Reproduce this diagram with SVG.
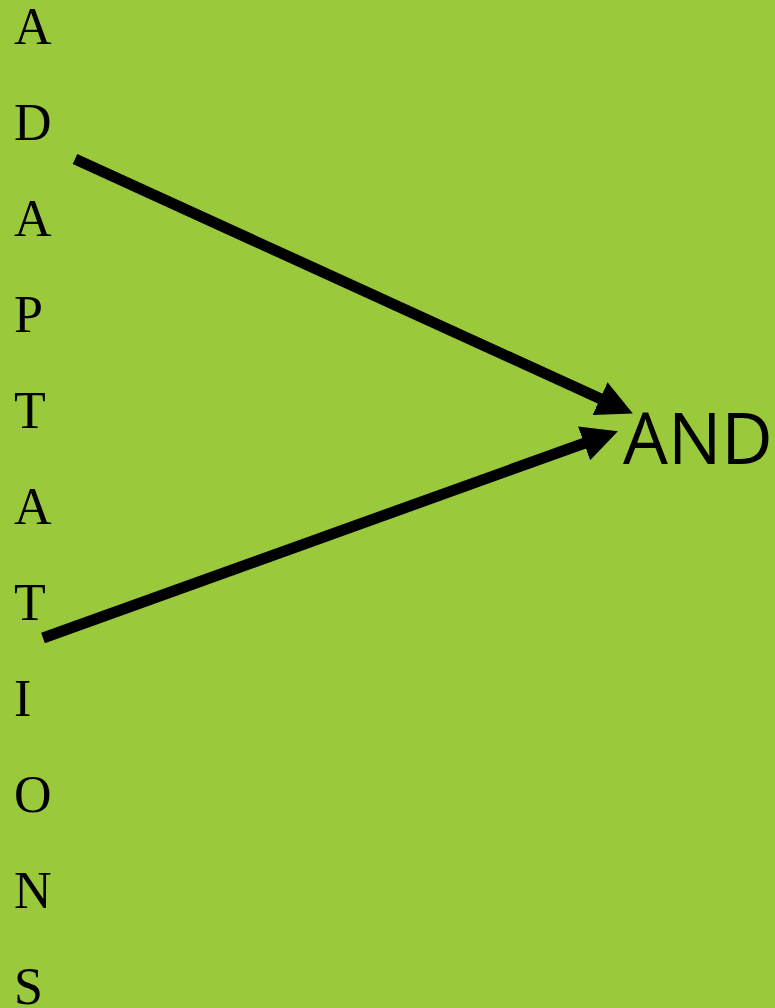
<svg xmlns="http://www.w3.org/2000/svg" width="775" height="1008" viewBox="0 0 775 1008">
  <style>
    .letter { font-family: "Liberation Serif", "Times New Roman", serif; font-size: 52px; fill: #000; }
    .word { font-family: "Open Sans", "Liberation Sans", sans-serif; font-size: 71px; fill: #000; }
    .conn { stroke: #000; stroke-width: 11; fill: none; marker-end: url(#head); }
  </style>
  <defs>
    <marker id="head" markerUnits="userSpaceOnUse" markerWidth="36" markerHeight="36" refX="1" refY="18" orient="auto">
      <path d="M0,0 L36,18 L0,36 z" fill="#000"/>
    </marker>
  </defs>
  <rect width="775" height="1008" fill="#9aca3c"/>

  <g id="adaptations">
    <text class="letter" x="14" y="44">A</text>
    <text class="letter" x="14" y="140">D</text>
    <text class="letter" x="14" y="236">A</text>
    <text class="letter" x="14" y="332">P</text>
    <text class="letter" x="14" y="428">T</text>
    <text class="letter" x="14" y="524">A</text>
    <text class="letter" x="14" y="620">T</text>
    <text class="letter" x="14" y="716">I</text>
    <text class="letter" x="14" y="812">O</text>
    <text class="letter" x="14" y="908">N</text>
    <text class="letter" x="14" y="1004">S</text>
  </g>

  <g id="and">
    <text class="word" x="623" y="464">AND</text>
  </g>

  <g id="connectors">
    <line class="conn" x1="75" y1="159" x2="601" y2="399"/>
    <line class="conn" x1="43" y1="638" x2="585" y2="443"/>
  </g>
</svg>
